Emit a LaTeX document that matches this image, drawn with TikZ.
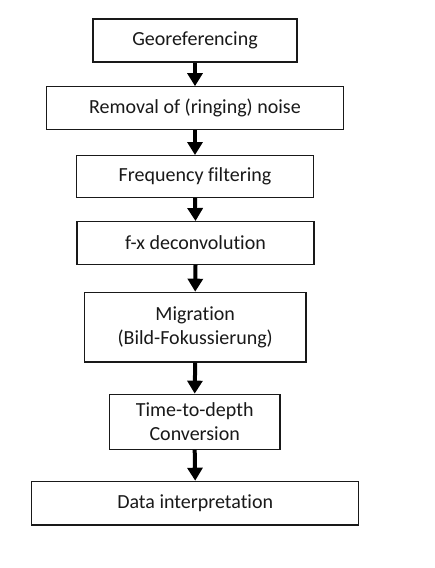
\documentclass[tikz,border=0pt]{standalone}
\usepackage{fontspec}
\setmainfont{Carlito}[Ligatures=NoCommon]
\usetikzlibrary{arrows.meta}
\begin{document}
\begin{tikzpicture}[x=1bp,y=-1bp,
  stepbox/.style={draw=black!90, line width=1.3bp, rectangle, inner sep=0pt, align=center,
    font=\fontsize{20bp}{24bp}\selectfont, text=black!90},
  flow/.style={line width=4bp, -{Triangle[width=15bp,length=13bp]}, black}]
\useasboundingbox[fill=white] (0,0) rectangle (435,568);
\node[stepbox, minimum width=204bp, minimum height=43bp] (g) at (195,40.5) {Georeferencing};
\node[stepbox, minimum width=297bp, minimum height=43bp] (r) at (195,108.3) {Removal of (ringing) noise};
\node[stepbox, minimum width=237bp, minimum height=41.6bp] (f) at (195,176.5) {Frequency filtering};
\node[stepbox, minimum width=237bp, minimum height=42.6bp] (d) at (195.5,243) {f-x deconvolution};
\node[stepbox, minimum width=221.7bp, minimum height=69.7bp] (m) at (195.2,327.2) {Migration\\(Bild-Fokussierung)};
\node[stepbox, minimum width=170.7bp, minimum height=55bp] (t) at (194.7,421.8) {Time-to-depth\\Conversion};
\node[stepbox, minimum width=327bp, minimum height=43.7bp] (i) at (195.2,503.2) {Data interpretation};
\draw[flow] (g.south) -- (r.north);
\draw[flow] (r.south) -- (f.north);
\draw[flow] (f.south) -- (d.north);
\draw[flow] (d.south) -- (m.north);
\draw[flow] (m.south) -- (t.north);
\draw[flow] (t.south) -- (i.north);
\end{tikzpicture}
\end{document}
